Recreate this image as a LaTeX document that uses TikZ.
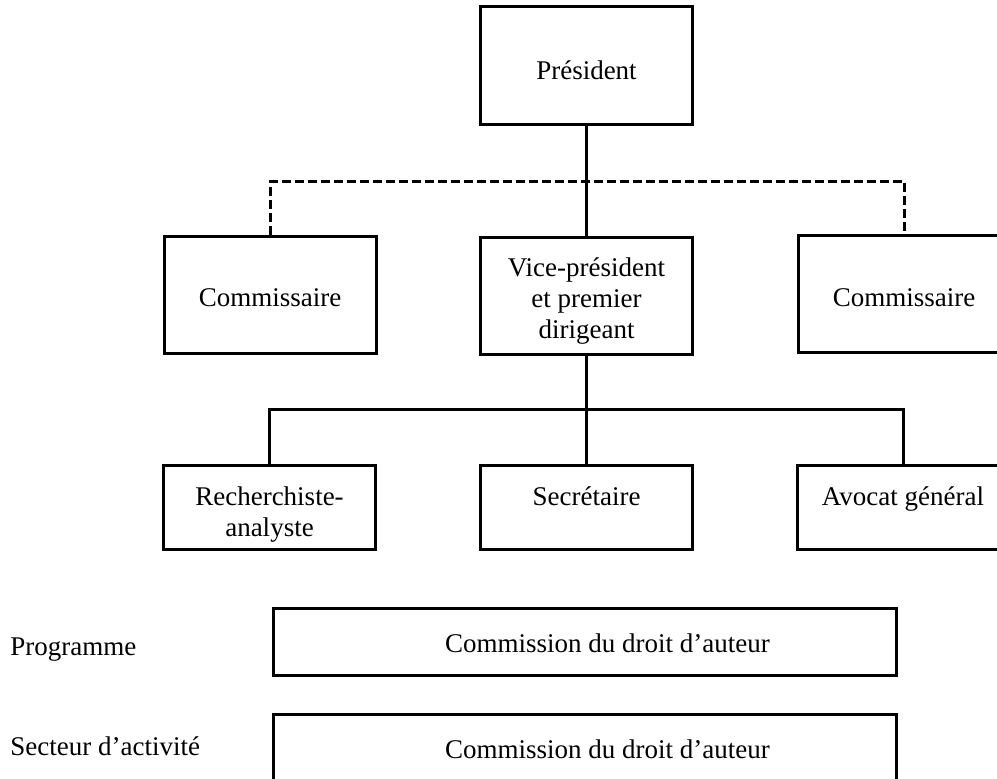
\documentclass[tikz,border=0pt]{standalone}
\usepackage{fontspec}
\setmainfont{Liberation Serif}
\usepackage{tikz}
\usetikzlibrary{calc}

\newcommand{\lines}[1]{\begin{tabular}[t]{@{}c@{}}#1\end{tabular}}

\begin{document}
\begin{tikzpicture}[x=0.5pt, y=-0.5pt,
    every node/.style={font=\fontsize{13.5}{15.5}\selectfont},
    orgbox/.style={draw, line width=1.5pt, inner sep=0pt},
    topbox/.style={orgbox, text height=17pt, text depth=3.5pt, minimum width=106pt, minimum height=59pt},
    midbox/.style={orgbox, text height=15.5pt, text depth=3.5pt, minimum width=106pt, minimum height=58.5pt},
    lowbox/.style={orgbox, text height=16.5pt, text depth=19pt, minimum width=106pt, minimum height=42pt},
    wide/.style={orgbox, text height=14pt, text depth=3.5pt, minimum width=311.5pt, minimum height=33.5pt},
    rowlabel/.style={anchor=base west, inner sep=0pt},
    link/.style={line width=1.5pt},
    dottedlink/.style={line width=1.5pt, dash pattern=on 4.5pt off 2pt}]
                \useasboundingbox (0,0) rectangle (997,778);

                % Boxes
                \node[topbox] (pres) at (586.5,65.5) {Président};
                \node[midbox] (comL) at (270,294.5) {Commissaire};
                \node[midbox, text depth=34.5pt] (vice) at (586.5,295.5) {\lines{Vice-président\\et premier\\dirigeant}};
                \node[midbox] (comR) at (904,294) {Commissaire};
                \node[lowbox] (rech) at (269.5,507.5) {\lines{Recherchiste-\\analyste}};
                \node[lowbox] (secr) at (586.5,507.5) {Secrétaire};
                \node[lowbox] (avoc) at (903,507.5) {Avocat général};

                % Bottom rows
                \node[wide] (prog) at (584.5,641.5) {\hspace*{23pt}Commission du droit d'auteur};
                \node[wide] (sect) at (584.5,747.5) {\hspace*{23pt}Commission du droit d'auteur};
                \node[rowlabel] (progl) at (10,655) {Programme};
                \node[rowlabel] (sectl) at (10,755) {Secteur d'activité};

                % Points
                \coordinate (dash) at (586.5,181);
                \coordinate (bar) at (586.5,409);

                % Links
                \draw[link] (pres.south) -- (vice.north);
                \draw[dottedlink] (comL.north) |- (dash) -| (comR.north);
                \draw[link] (vice.south) -- (secr.north);
                \draw[link] (rech.north) |- (bar) -| (avoc.north);
\end{tikzpicture}
\end{document}
